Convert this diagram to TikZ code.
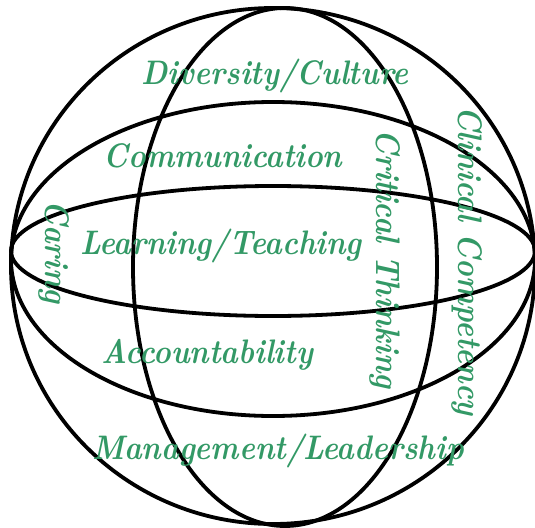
\documentclass[tikz,border=0pt]{standalone}
\usepackage{fontspec}
\newfontfamily\lblfont{lmroman10-bolditalic.otf}[FakeStretch=0.88]
\definecolor{labelgreen}{RGB}{51,153,102}
\tikzset{
  x=1pt, y=-1pt,
  ring/.style={draw=black, line width=3.8pt},
  lbl/.style={text=labelgreen, font=\fontsize{34}{38}\lblfont, inner sep=0pt},
  vlbl/.style={lbl, rotate=-90},
}
\begin{document}
\begin{tikzpicture}
\useasboundingbox (0,0) rectangle (535,527);
% globe lines
\draw[ring] (273,266) ellipse [x radius=262, y radius=258];
\draw[ring] (285,267) ellipse [x radius=152, y radius=259];
\draw[ring] (273,259) ellipse [x radius=262, y radius=157];
\draw[ring] (273,251) ellipse [x radius=262, y radius=65];
% labels
\node[lbl, anchor=base] (div) at (275,84) {Diversity/Culture};
\node[lbl, anchor=base] (com) at (223,167) {Communication};
\node[lbl, anchor=base] (lea) at (221,254) {Learning/Teaching};
\node[lbl, anchor=base] (acc) at (207,363) {Accountability};
\node[lbl, anchor=base] (man) at (278,459) {Management/Leadership};
\node[vlbl] (car) at (54,252) {Caring};
\node[vlbl] (cri) at (385,259) {Critical Thinking};
\node[vlbl] (cli) at (467,261) {Clinical Competency};
\end{tikzpicture}
\end{document}
